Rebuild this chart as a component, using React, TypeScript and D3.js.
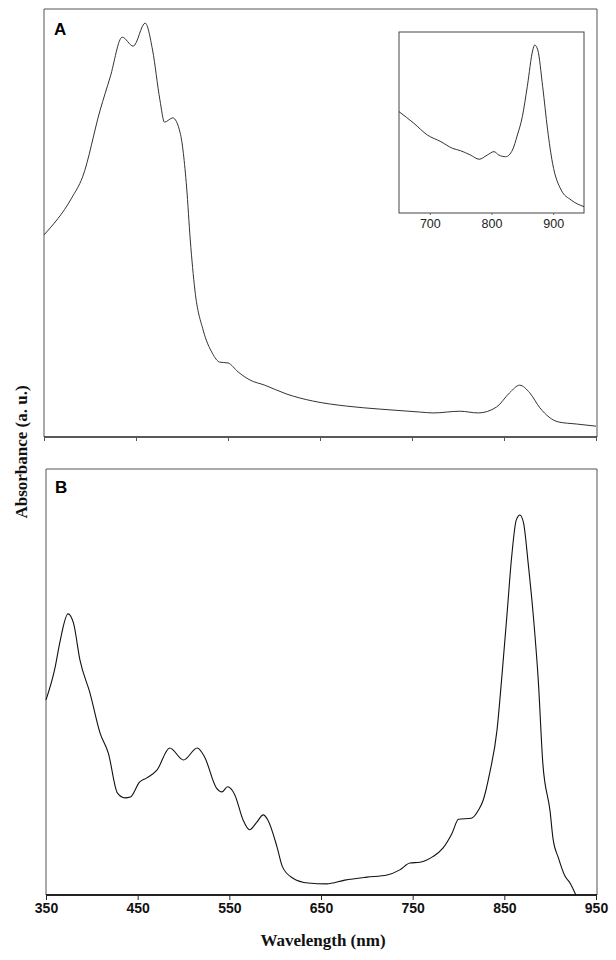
import React, { useRef, useEffect } from 'react';
import * as d3 from 'd3';

// Panel A: full spectrum (nm, a.u.)
const wavelengthsA = [350, 380, 392, 411, 422, 435, 447, 460, 468, 476, 481, 490, 498, 505, 509, 514, 523, 533, 541, 550, 561, 574, 590, 614, 642, 679, 715, 759, 773, 802, 822, 842, 856, 867, 878, 889, 909, 929, 950];
const absorbanceA = [0.471, 0.557, 0.607, 0.763, 0.841, 0.934, 0.913, 0.967, 0.904, 0.787, 0.735, 0.745, 0.71, 0.583, 0.459, 0.342, 0.248, 0.194, 0.173, 0.171, 0.15, 0.131, 0.119, 0.098, 0.082, 0.07, 0.063, 0.056, 0.054, 0.058, 0.054, 0.068, 0.101, 0.119, 0.101, 0.066, 0.033, 0.028, 0.023];

// Panel A inset: near-IR region
const wavelengthsInset = [650, 674, 696, 718, 737, 750, 766, 780, 793, 804, 812, 823, 834, 842, 850, 858, 867, 870, 875, 883, 891, 899, 913, 929, 950];
const absorbanceInset = [0.56, 0.496, 0.431, 0.394, 0.357, 0.344, 0.32, 0.297, 0.32, 0.339, 0.32, 0.311, 0.348, 0.431, 0.532, 0.698, 0.901, 0.928, 0.901, 0.698, 0.459, 0.275, 0.127, 0.072, 0.035];

// Panel B
const wavelengthsB = [350, 360, 365, 374, 380, 387, 398, 409, 418, 428, 436, 442, 452, 460, 471, 485, 500, 515, 523, 536, 542, 548, 556, 565, 572, 580, 587, 592, 602, 608, 619, 636, 656, 676, 700, 722, 736, 747, 758, 772, 783, 793, 800, 814, 822, 827, 834, 842, 847, 853, 858, 863, 867, 871, 876, 882, 887, 892, 900, 903, 909, 916, 922, 928];
const absorbanceB = [0.458, 0.535, 0.592, 0.66, 0.638, 0.552, 0.474, 0.38, 0.333, 0.239, 0.228, 0.23, 0.265, 0.275, 0.293, 0.345, 0.317, 0.345, 0.324, 0.251, 0.242, 0.254, 0.235, 0.176, 0.153, 0.171, 0.188, 0.176, 0.113, 0.066, 0.04, 0.028, 0.026, 0.035, 0.042, 0.047, 0.059, 0.075, 0.077, 0.09, 0.11, 0.145, 0.178, 0.18, 0.2, 0.223, 0.286, 0.387, 0.505, 0.661, 0.794, 0.88, 0.892, 0.873, 0.779, 0.646, 0.505, 0.309, 0.195, 0.134, 0.087, 0.045, 0.027, 0];

const tickValues = [350, 450, 550, 650, 750, 850, 950];
const insetTicks = [700, 800, 900];

const App = () => {
  const svgRef = useRef<SVGSVGElement>(null);

  useEffect(() => {
    const svg = d3.select(svgRef.current);
    svg.selectAll('*').remove();

    const ink = '#222';
    const toPts = (xs: number[], ys: number[]) => xs.map((x, i) => [x, ys[i]] as [number, number]);

    // ---------- Panel A ----------
    const xA = d3.scaleLinear().domain([350, 950]).range([44, 596]);
    const yA = d3.scaleLinear().domain([0, 1]).range([436, 9]);

    svg.append('path')
      .attr('d', `M44,437 V9 H597 V437`)
      .attr('fill', 'none')
      .attr('stroke', '#555')
      .attr('stroke-width', 1);

    svg.append('g')
      .attr('transform', 'translate(0,437)')
      .call(d3.axisBottom(xA).tickValues(tickValues).tickSize(4).tickFormat(() => ''))
      .call(g => g.select('.domain').attr('stroke', ink).attr('stroke-width', 1.5).attr('d', 'M44,0H597'))
      .call(g => g.selectAll('.tick line').attr('stroke', '#555'));

    const lineA = d3.line<[number, number]>()
      .x(d => xA(d[0]))
      .y(d => yA(d[1]))
      .curve(d3.curveMonotoneX);

    svg.append('path')
      .datum(toPts(wavelengthsA, absorbanceA))
      .attr('d', lineA)
      .attr('fill', 'none')
      .attr('stroke', '#333')
      .attr('stroke-width', 1);

    svg.append('text')
      .attr('x', 54)
      .attr('y', 35)
      .style('font-family', '"Liberation Sans", Arial, sans-serif')
      .style('font-weight', 'bold')
      .style('font-size', '17px')
      .text('A');

    // ---------- Inset ----------
    const xI = d3.scaleLinear().domain([650, 950]).range([399, 584]);
    const yI = d3.scaleLinear().domain([0, 1]).range([213, 32]);

    svg.append('rect')
      .attr('x', 399).attr('y', 32)
      .attr('width', 185).attr('height', 181)
      .attr('fill', 'none')
      .attr('stroke', '#444')
      .attr('stroke-width', 1);

    const insetAxis = svg.append('g')
      .attr('transform', 'translate(0,213)')
      .call(d3.axisBottom(xI).tickValues(insetTicks).tickSize(2).tickPadding(4));
    insetAxis.select('.domain').remove();
    insetAxis.selectAll('.tick line').attr('stroke', '#666');
    insetAxis.selectAll('.tick text')
      .attr('fill', ink)
      .style('font-family', '"Liberation Sans", Arial, sans-serif')
      .style('font-size', '12.5px');

    const lineI = d3.line<[number, number]>()
      .x(d => xI(d[0]))
      .y(d => yI(d[1]))
      .curve(d3.curveMonotoneX);

    svg.append('path')
      .datum(toPts(wavelengthsInset, absorbanceInset))
      .attr('d', lineI)
      .attr('fill', 'none')
      .attr('stroke', '#333')
      .attr('stroke-width', 1);

    // ---------- Panel B ----------
    const xB = d3.scaleLinear().domain([350, 950]).range([46, 596]);
    const yB = d3.scaleLinear().domain([0, 1]).range([895, 469]);

    svg.append('path')
      .attr('d', `M46,895 V469 H597 V895`)
      .attr('fill', 'none')
      .attr('stroke', '#555')
      .attr('stroke-width', 1);

    const axisB = svg.append('g')
      .attr('transform', 'translate(0,895)')
      .call(d3.axisBottom(xB).tickValues(tickValues).tickSize(5).tickPadding(3));
    axisB.select('.domain').attr('stroke', ink).attr('stroke-width', 2).attr('d', 'M46,0H597');
    axisB.selectAll('.tick line').attr('stroke', ink);
    axisB.selectAll('.tick text')
      .attr('fill', '#111')
      .style('font-family', '"Liberation Sans", Arial, sans-serif')
      .style('font-weight', 'bold')
      .style('font-size', '14px');

    const lineB = d3.line<[number, number]>()
      .x(d => xB(d[0]))
      .y(d => yB(d[1]))
      .curve(d3.curveMonotoneX);

    svg.append('path')
      .datum(toPts(wavelengthsB, absorbanceB))
      .attr('d', lineB)
      .attr('fill', 'none')
      .attr('stroke', '#111')
      .attr('stroke-width', 1.1);

    svg.append('text')
      .attr('x', 55)
      .attr('y', 493)
      .style('font-family', '"Liberation Sans", Arial, sans-serif')
      .style('font-weight', 'bold')
      .style('font-size', '17px')
      .text('B');

    // ---------- Axis titles ----------
    svg.append('text')
      .attr('transform', 'translate(27,452) rotate(-90)')
      .attr('text-anchor', 'middle')
      .attr('fill', '#111')
      .style('font-family', '"Liberation Serif", "Times New Roman", serif')
      .style('font-weight', 'bold')
      .style('font-size', '17px')
      .text('Absorbance (a. u.)');

    svg.append('text')
      .attr('x', 323)
      .attr('y', 946)
      .attr('text-anchor', 'middle')
      .attr('fill', '#111')
      .style('font-family', '"Liberation Serif", "Times New Roman", serif')
      .style('font-weight', 'bold')
      .style('font-size', '17px')
      .text('Wavelength (nm)');
  }, []);

  return (
    <svg
      ref={svgRef}
      width={616}
      height={960}
      style={{ position: 'absolute', left: 0, top: 0, background: '#fff' }}
    />
  );
};

export default App;
